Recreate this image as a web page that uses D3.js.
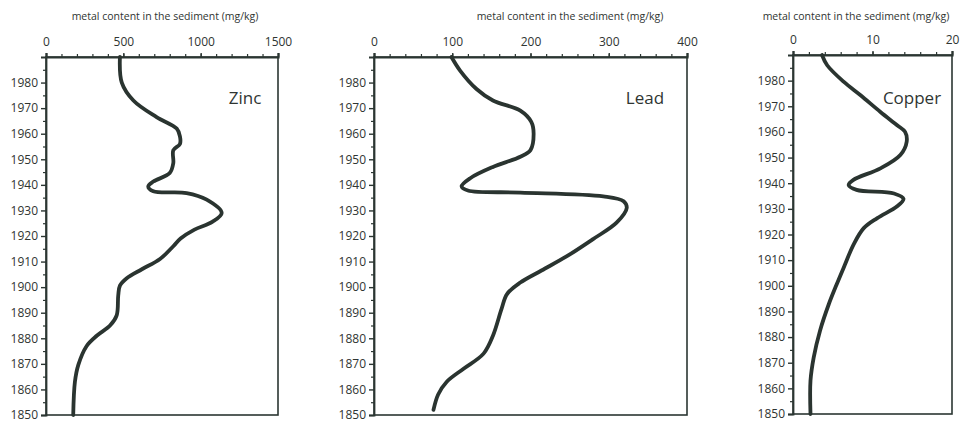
<!DOCTYPE html>
<html><head><meta charset="utf-8">
<script src="https://cdn.jsdelivr.net/npm/d3@7"></script>
<style>
html,body{margin:0;padding:0;background:#fff;}
svg{display:block;font-family:"Open Sans",sans-serif;}
</style></head>
<body>
<svg id="chart" width="968" height="423"></svg>
<script>
// ---- data ----
const yearTicks = [1850,1860,1870,1880,1890,1900,1910,1920,1930,1940,1950,1960,1970,1980];
const axisTitle = "metal content in the sediment (mg/kg)";

const zincTicks = [0,500,1000,1500];
const zincYears  = [1990,1980,1973,1966.5,1962,1959,1956,1953.5,1948.5,1944.6,1941.3,1939.4,1937.5,1936.8,1934.2,1929,1925.5,1922.5,1919,1916,1911,1907,1903.5,1900.6,1896.7,1889,1885,1881,1877,1869.6,1863,1850];
const zincValues = [478,490,565,715,845,866,866,823,823,800,694,661,694,909,1039,1136,1075,960,870,823,737,620,522,478,467,457,414,328,263,209,187,176];

const leadTicks = [0,100,200,300,400];
const leadYears  = [1990,1984.7,1977.5,1973,1969,1964.6,1960,1953.6,1951,1947,1942.6,1939.4,1937.8,1937,1935.5,1933.6,1931,1925.2,1918.8,1912,1906.5,1901.8,1897.3,1891.5,1881,1874,1868,1863,1858,1852];
const leadValues = [99,110,131,152,187,201,204,200,187,152,123,112,120,187,293,319,323,310,280,246,214,187,170,163,152,140,114,93,82,76];

const copperTicks = [0,10,20];
const copperYears  = [1990,1986,1979.5,1974.3,1967.8,1962.6,1960,1956.2,1951,1945.8,1941.3,1939.3,1937.4,1936,1933.9,1931,1926.4,1922.5,1916,1908,1900.6,1892.8,1882.5,1872,1863,1850];
const copperValues = [3.65,4.3,6.4,8.5,11,13.1,14.1,14.3,13.5,11,7.6,7.0,8.0,12.7,13.9,13.1,10.6,8.9,7.6,6.5,5.5,4.5,3.4,2.6,2.2,2.2];

const panelNames = ["Zinc","Lead","Copper"];

// ---- layout ----
const panels = [
  {name:panelNames[0], ticks:zincTicks, minor:100, years:zincYears, values:zincValues,
   x0:46, x1:278, top:57, bottom:415, titleX:165, labelX:245},
  {name:panelNames[1], ticks:leadTicks, minor:20, years:leadYears, values:leadValues,
   x0:374, x1:687, top:57, bottom:415, titleX:570, labelX:645},
  {name:panelNames[2], ticks:copperTicks, minor:2, years:copperYears, values:copperValues,
   x0:793, x1:952, top:55, bottom:414, titleX:856, labelX:912}
];

const svg = d3.select("#chart");
const ink = "#2b3632";
const textCol = "#2f3532";

panels.forEach(p => {
  const dom = [p.ticks[0], p.ticks[p.ticks.length-1]];
  const x = d3.scaleLinear().domain(dom).range([p.x0, p.x1]);
  const y = d3.scaleLinear().domain([1850, 1990]).range([p.bottom, p.top]);
  const g = svg.append("g");

  // frame
  g.append("rect").attr("x", p.x0).attr("y", p.top)
    .attr("width", p.x1 - p.x0).attr("height", p.bottom - p.top)
    .attr("fill", "none").attr("stroke", ink).attr("stroke-width", 1.6);

  // top axis minor ticks
  const minorX = d3.range(dom[0], dom[1] + p.minor/2, p.minor);
  g.append("g").attr("transform", `translate(0,${p.top})`)
    .call(d3.axisTop(x).tickValues(minorX).tickSize(3).tickFormat(""))
    .call(a => { a.select(".domain").remove(); a.selectAll("line").attr("stroke", ink).attr("stroke-width",1.2); });
  // top axis major
  g.append("g").attr("transform", `translate(0,${p.top})`)
    .call(d3.axisTop(x).tickValues(p.ticks).tickSize(4).tickPadding(7).tickFormat(d3.format("d")))
    .call(a => {
      a.select(".domain").attr("stroke", ink).attr("stroke-width", 2.2);
      a.selectAll("line").attr("stroke", ink).attr("stroke-width",1.4);
      a.selectAll("text").attr("fill", textCol).style("font-size","12px").style("font-family","'Open Sans',sans-serif");
    });

  // left axis minor ticks
  g.append("g").attr("transform", `translate(${p.x0},0)`)
    .call(d3.axisLeft(y).tickValues(d3.range(1855, 1990, 10)).tickSize(3).tickFormat(""))
    .call(a => { a.select(".domain").remove(); a.selectAll("line").attr("stroke", ink).attr("stroke-width",1.2); });
  // left axis major
  g.append("g").attr("transform", `translate(${p.x0},0)`)
    .call(d3.axisLeft(y).tickValues(yearTicks).tickSize(5).tickPadding(3).tickFormat(d3.format("d")))
    .call(a => {
      a.select(".domain").attr("stroke", ink).attr("stroke-width", 1.8);
      a.selectAll("line").attr("stroke", ink).attr("stroke-width",1.4);
      a.selectAll("text").attr("fill", textCol).style("font-size","12px").style("font-family","'Open Sans',sans-serif");
    });

  // title
  g.append("text").attr("x", p.titleX).attr("y", 20).attr("text-anchor","middle")
    .attr("fill", textCol).style("font-size","10.5px").text(axisTitle);

  // panel label
  g.append("text").attr("x", p.labelX).attr("y", 104).attr("text-anchor","middle")
    .attr("fill", textCol).style("font-size","17px").text(p.name);

  // curve
  const pts = p.years.map((yr, i) => [p.values[i], yr]);
  const line = d3.line().x(d => x(d[0])).y(d => y(d[1])).curve(d3.curveCatmullRom.alpha(0.5));
  g.append("path").datum(pts).attr("d", line)
    .attr("fill","none").attr("stroke", "#2a3430").attr("stroke-width", 3.8)
    .attr("stroke-linejoin","round").attr("stroke-linecap","round");
});
</script>
</body></html>
